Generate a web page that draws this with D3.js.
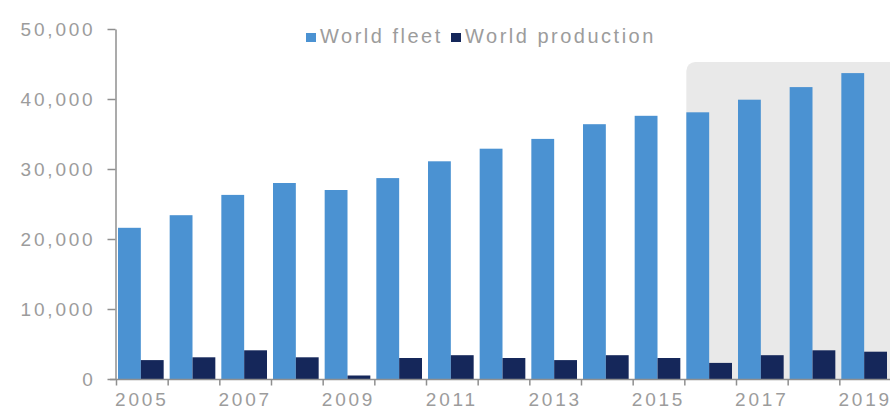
<!DOCTYPE html>
<html>
<head>
<meta charset="utf-8">
<title>World fleet and production</title>
<script src="https://d3js.org/d3.v7.min.js"></script>
<style>
  body { margin: 0; background: #fff; }
  svg { display: block; font-family: "Liberation Sans", Arial, sans-serif; }
  .axis text { fill: #9c9c9c; font-size: 19px; letter-spacing: 2.8px; }
  .axis path, .axis line { stroke: #8f8f8f; stroke-width: 1.5px; }
  .legend text { fill: #9c9c9c; font-size: 20px; letter-spacing: 2.5px; }
</style>
</head>
<body>
<svg width="890" height="412"></svg>
<script>
// data
var years = ["2005","2006","2007","2008","2009","2010","2011","2012","2013","2014","2015","2016","2017","2018","2019"];
var worldFleet = [21600, 23400, 26300, 28000, 27000, 28700, 31100, 32900, 34300, 36400, 37600, 38100, 39900, 41700, 43700];
var worldProduction = [2700, 3100, 4100, 3100, 500, 3000, 3400, 3000, 2700, 3400, 3000, 2300, 3400, 4100, 3900];
var series = ["World fleet", "World production"];
var yTicks = [0, 10000, 20000, 30000, 40000, 50000];
var xLabels = ["2005","2007","2009","2011","2013","2015","2017","2019"];
var shadedFrom = "2016";
var shadeTop = 45300;

var colors = { "World fleet": "#4b92d2", "World production": "#15275a" };

var svg = d3.select("svg");

var x0 = d3.scaleBand().domain(years).range([116, 891]).padding(0);
var x1 = d3.scaleBand().domain(series).range([2, x0.bandwidth() - 4]).padding(0);
var y = d3.scaleLinear().domain([0, 50000]).range([379, 29]);

var rows = years.map(function(yr, i) {
  return { year: yr, values: [
    { key: "World fleet", value: worldFleet[i] },
    { key: "World production", value: worldProduction[i] }
  ] };
});

// forecast shading
svg.append("rect")
  .attr("x", x0(shadedFrom) + 2)
  .attr("y", y(shadeTop))
  .attr("width", 300)
  .attr("height", y(0) - y(shadeTop))
  .attr("rx", 9)
  .attr("fill", "#e9e9e9");

// bars
var groups = svg.selectAll(".year")
  .data(rows)
  .enter().append("g")
  .attr("class", "year")
  .attr("transform", function(d) { return "translate(" + x0(d.year) + ",0)"; });

groups.selectAll("rect")
  .data(function(d) { return d.values; })
  .enter().append("rect")
  .attr("x", function(d) { return x1(d.key); })
  .attr("y", function(d) { return y(d.value); })
  .attr("width", x1.bandwidth())
  .attr("height", function(d) { return y(0) - y(d.value); })
  .attr("fill", function(d) { return colors[d.key]; });

// y axis
svg.append("g")
  .attr("class", "axis")
  .attr("transform", "translate(115.5,0)")
  .call(d3.axisLeft(y).tickValues(yTicks).tickSize(8).tickPadding(12).tickSizeOuter(0).tickFormat(d3.format(",")));

// x axis: labels every other year, ticks on band edges
var xa = svg.append("g")
  .attr("class", "axis")
  .attr("transform", "translate(0," + (y(0) + 0.5) + ")");
xa.call(d3.axisBottom(x0).tickValues(xLabels).tickSize(0).tickPadding(13).tickSizeOuter(0));
xa.select(".domain").attr("d", "M110,0H891");
xa.selectAll(".edge")
  .data(years)
  .enter().append("line")
  .attr("class", "edge")
  .attr("x1", function(d) { return x0(d) + 0.5; })
  .attr("x2", function(d) { return x0(d) + 0.5; })
  .attr("y1", 0)
  .attr("y2", 6);

// legend
var legend = svg.append("g").attr("class", "legend");
var legendX = [306, 451];
series.forEach(function(s, i) {
  legend.append("rect")
    .attr("x", legendX[i]).attr("y", 33)
    .attr("width", 10).attr("height", 9)
    .attr("fill", colors[s]);
  legend.append("text")
    .attr("x", legendX[i] + 14).attr("y", 43)
    .text(s);
});
</script>
</body>
</html>
